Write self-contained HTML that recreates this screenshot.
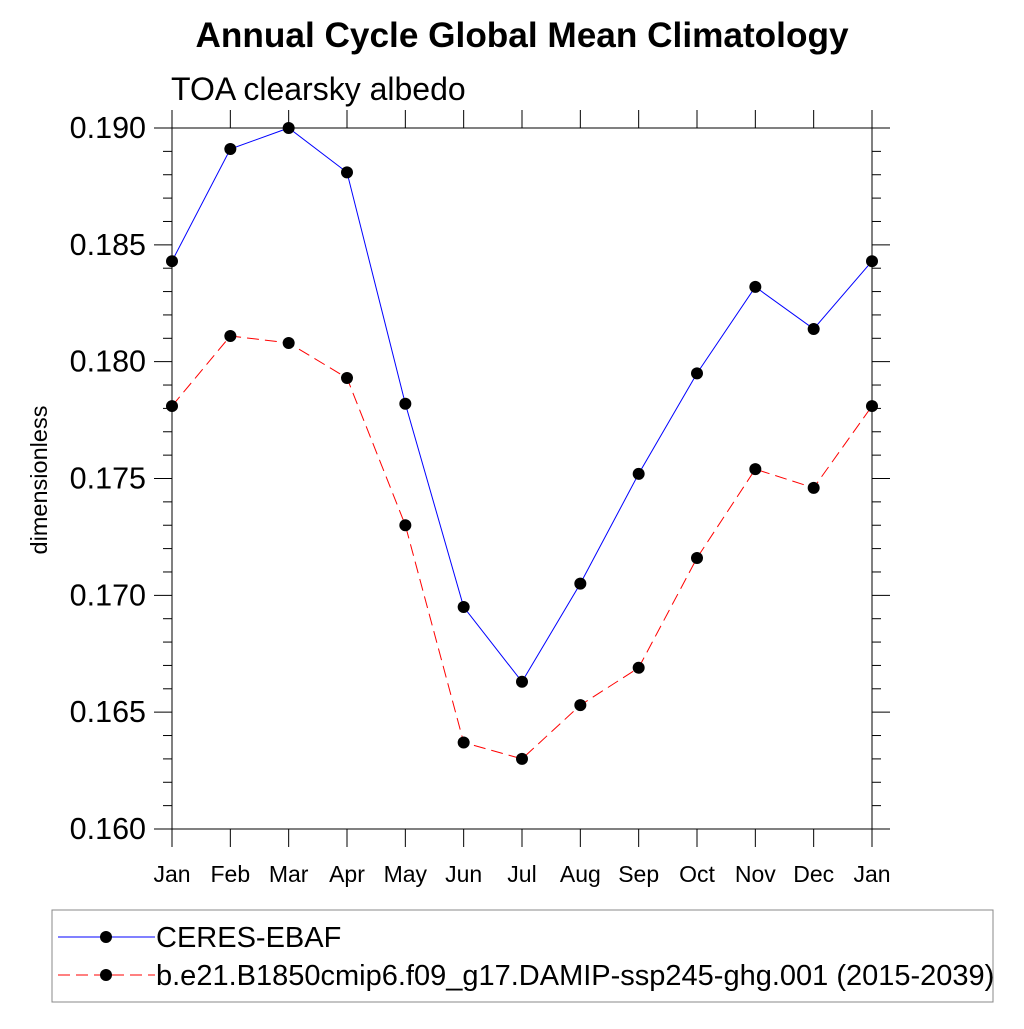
<!DOCTYPE html>
<html><head><meta charset="utf-8"><style>
body{margin:0;background:#fff;}
svg text{font-family:"Liberation Sans",sans-serif;}
</style></head><body>
<svg id="chart" width="1024" height="1024" xmlns="http://www.w3.org/2000/svg">
<rect width="1024" height="1024" fill="#fff"/>
<text x="522" y="47" text-anchor="middle" font-size="35.2" font-weight="bold">Annual Cycle Global Mean Climatology</text>
<text x="171" y="100" font-size="32">TOA clearsky albedo</text>
<text transform="translate(47,480) rotate(-90)" text-anchor="middle" font-size="23.5">dimensionless</text>
<g id="axes"></g>
<g id="series"></g>
<rect x="52" y="910" width="941" height="92" fill="none" stroke="#888" stroke-width="1"/>
<g>
<line x1="58" y1="937" x2="155" y2="937" stroke="#0000ff" stroke-width="1"/>
<circle cx="106" cy="937" r="6" fill="#000"/>
<text x="156" y="947" font-size="29">CERES-EBAF</text>
</g>
<g>
<line x1="58" y1="975" x2="155" y2="975" stroke="#ff0000" stroke-width="1" stroke-dasharray="12,6"/>
<circle cx="106" cy="975" r="6" fill="#000"/>
<text x="156" y="985" font-size="29">b.e21.B1850cmip6.f09_g17.DAMIP-ssp245-ghg.001 (2015-2039)</text>
</g>
</svg>
<script>
const months = ["Jan","Feb","Mar","Apr","May","Jun","Jul","Aug","Sep","Oct","Nov","Dec","Jan"];
const ceres = [0.1843,0.1891,0.1900,0.1881,0.1782,0.1695,0.1663,0.1705,0.1752,0.1795,0.1832,0.1814,0.1843];
const model = [0.1781,0.1811,0.1808,0.1793,0.1730,0.1637,0.1630,0.1653,0.1669,0.1716,0.1754,0.1746,0.1781];
const yTicks = ["0.160","0.165","0.170","0.175","0.180","0.185","0.190"];
const NS="http://www.w3.org/2000/svg";
const X0=172,X1=872,Y0=829,Y1=128,YMIN=0.160,YMAX=0.190;
function xs(i){return X0+(X1-X0)*i/(months.length-1);}
function ys(v){return Y0-(v-YMIN)/(YMAX-YMIN)*(Y0-Y1);}
function mk(t,a,p){const e=document.createElementNS(NS,t);for(const k in a)e.setAttribute(k,a[k]);p.appendChild(e);return e;}
const ax=document.getElementById('axes');
const frame=mk('rect',{x:X0,y:Y1,width:X1-X0,height:Y0-Y1,fill:'none',stroke:'#000','stroke-width':1},ax);


for(let k=0;k<=30;k++){
  const v=YMIN+k*0.001,y=ys(v),L=(k%5==0)?18:9;
  mk('line',{x1:X0-L,y1:y,x2:X0,y2:y,stroke:'#000'},ax);
  mk('line',{x1:X1,y1:y,x2:X1+L,y2:y,stroke:'#000'},ax);
}
yTicks.forEach(s=>{
  const t=mk('text',{x:146,y:ys(parseFloat(s))+10,'text-anchor':'end','font-size':30.5},ax);
  t.textContent=s;
  
  
});
months.forEach((m,i)=>{
  const x=xs(i);
  mk('line',{x1:x,y1:Y0,x2:x,y2:Y0+18,stroke:'#000'},ax);
  mk('line',{x1:x,y1:Y1-18,x2:x,y2:Y1,stroke:'#000'},ax);
  const t=mk('text',{x:x,y:882,'text-anchor':'middle','font-size':23},ax);
  t.textContent=m;
  
  
});
const sg=document.getElementById('series');
function draw(vals,color,dash,name){
  const g=mk('g',{},sg);
  
  
  const pts=vals.map((v,i)=>xs(i)+','+ys(v)).join(' ');
  const a={points:pts,fill:'none',stroke:color,'stroke-width':1};
  if(dash)a['stroke-dasharray']=dash;
  mk('polyline',a,g);
  vals.forEach((v,i)=>{
    const c=mk('circle',{cx:xs(i),cy:ys(v),r:6,fill:'#000'},g);
    
    
  });
}
draw(ceres,'#0000ff',null,'series-ceres-ebaf');
draw(model,'#ff0000','12,6','series-model');
</script>
</body></html>
